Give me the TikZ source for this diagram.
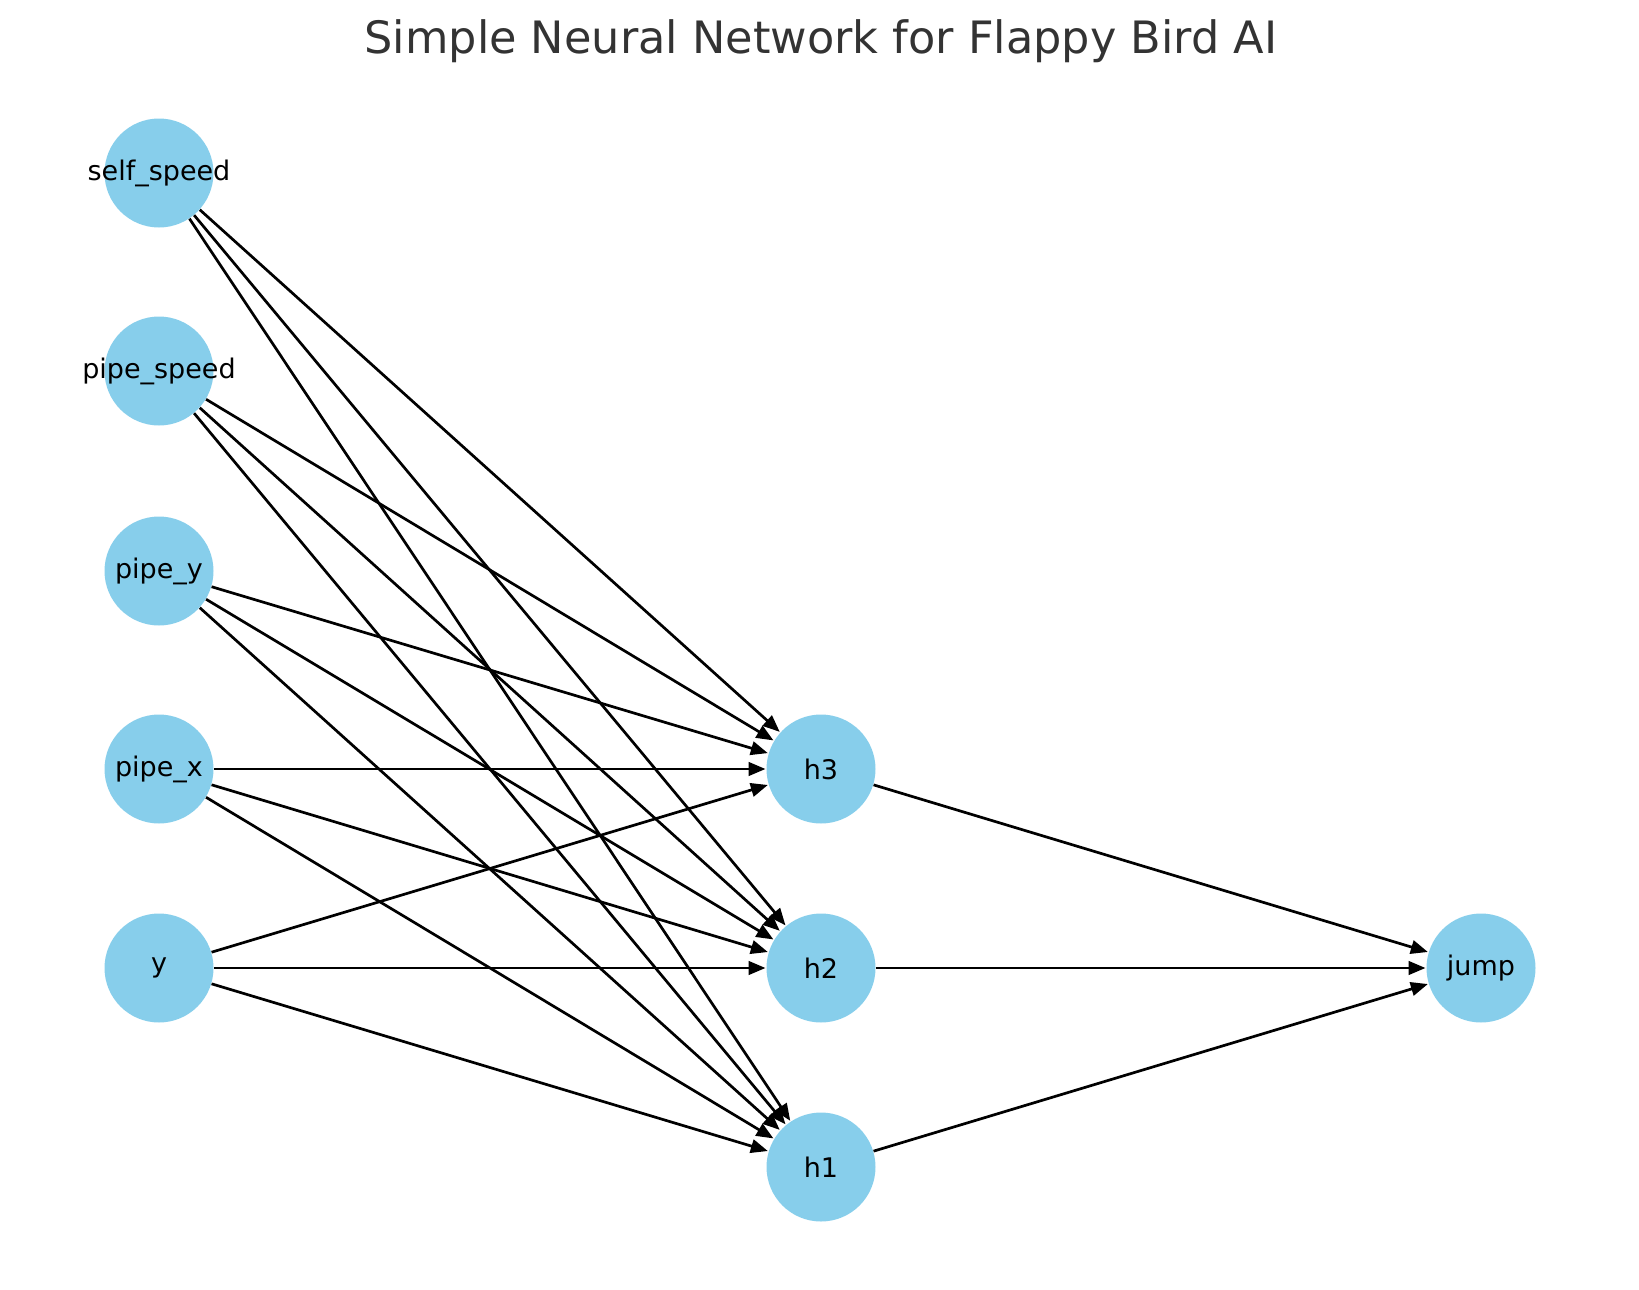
\documentclass[tikz,border=0pt]{standalone}
\usepackage{fontspec}
\setmainfont{DejaVu Sans}
\usetikzlibrary{arrows.meta}
\definecolor{skyblue}{HTML}{87CEEB}
\definecolor{titlegray}{HTML}{333333}
\newcommand{\nlab}[1]{\makebox[0pt]{#1}}
\begin{document}
\begin{tikzpicture}[x=0.5pt,y=-0.5pt,
  neuron/.style={circle,fill=skyblue,draw=none,minimum size=54.5pt,inner sep=0pt,font=\fontsize{13.5}{16}\selectfont},
  edge/.style={line width=1.35pt,draw=black,-{Triangle[length=8.5pt,width=6.8pt]},shorten >=0.3pt}]
\useasboundingbox (0,0) rectangle (1639,1290);
\node[text=titlegray,font=\fontsize{22.3}{26}\selectfont] (title) at (821,41) {Simple Neural Network for Flappy Bird AI};
\node[neuron] (ss) at (159,173) {\nlab{self\_speed}};
\node[neuron] (ps) at (159,371) {\nlab{pipe\_speed}};
\node[neuron] (py) at (159,571) {\nlab{pipe\_y}};
\node[neuron] (px) at (159,769) {\nlab{pipe\_x}};
\node[neuron] (y) at (159,968) {\nlab{y}};
\node[neuron] (h3) at (821,769) {\nlab{h3}};
\node[neuron] (h2) at (821,968) {\nlab{h2}};
\node[neuron] (h1) at (821,1167) {\nlab{h1}};
\node[neuron] (jump) at (1481,968) {\nlab{jump}};
\foreach \i in {ss,ps,py,px,y}{
  \foreach \h in {h1,h2,h3}{
    \draw[edge] (\i) -- (\h);
  }
}
\foreach \h in {h1,h2,h3}{
  \draw[edge] (\h) -- (jump);
}
\end{tikzpicture}
\end{document}
